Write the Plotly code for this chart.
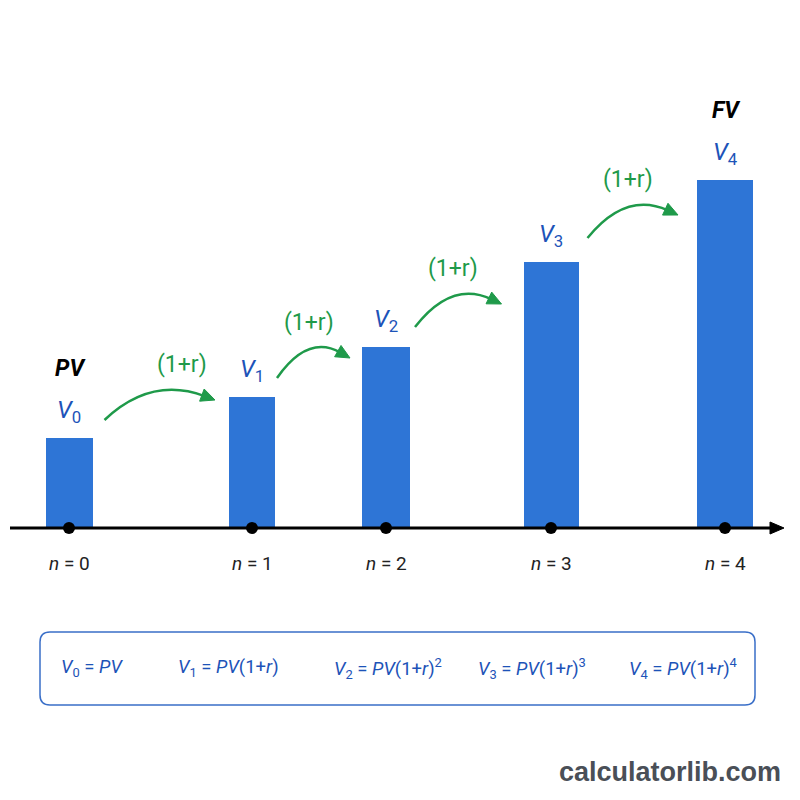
import math
import plotly.graph_objects as go

# ---------------- data ----------------
periods = [0, 1, 2, 3, 4]
values = [90, 131, 181, 266, 348]          # bar heights (arbitrary units)
bar_labels = ["<i>V</i><sub>0</sub>", "<i>V</i><sub>1</sub>", "<i>V</i><sub>2</sub>",
              "<i>V</i><sub>3</sub>", "<i>V</i><sub>4</sub>"]
top_labels = ["PV", "", "", "", "FV"]
growth_label = "(1+r)"
n_labels = [f"<i>n</i> = {p}" for p in periods]
formulas = [
    "<i>V</i><sub>0</sub> = <i>PV</i>",
    "<i>V</i><sub>1</sub> = <i>PV</i>(1+<i>r</i>)",
    "<i>V</i><sub>2</sub> = <i>PV</i>(1+<i>r</i>)<sup>2</sup>",
    "<i>V</i><sub>3</sub> = <i>PV</i>(1+<i>r</i>)<sup>3</sup>",
    "<i>V</i><sub>4</sub> = <i>PV</i>(1+<i>r</i>)<sup>4</sup>",
]
watermark = "calculatorlib.com"

# ---------------- layout / style ----------------
x_pos = [69, 252, 386, 551, 725]
bar_w = [47, 46, 48, 55, 56]
formula_x = [92, 228, 388, 532, 683]
# growth-arrow geometry offsets (pixels)
arr_start_dx = [12, 2, 5, 9]
arr_start_dy = [18, 19, 20, 24]
arr_end_dx = [-14, -12, -22, -19]
arr_rise = [20, 20, 23, 23]
arr_label_dx = [22, -5, -5, -5]

BASE = 528  # pixel row of the baseline
BAR_COLOR = "#2e75d6"
LABEL_BLUE = "#1d53b8"
GREEN = "#1f9a4a"
FONT = "Roboto, Arial, sans-serif"


def py(pix):
    """pixel row -> data y"""
    return BASE - pix


fig = go.Figure()

fig.add_trace(go.Bar(x=x_pos, y=values, width=bar_w, marker=dict(color=BAR_COLOR, line=dict(width=0)),
                     hoverinfo="skip"))

shapes = []
annotations = []

# baseline axis with arrow
shapes.append(dict(type="line", x0=10, x1=772, y0=0, y1=0, xref="x", yref="y",
                   line=dict(color="black", width=3), layer="above"))
shapes.append(dict(type="path", path="M 770,6 L 784,0 L 770,-6 Z", xref="x", yref="y",
                   fillcolor="black", line=dict(color="black", width=1), layer="above"))

# dots
fig.add_trace(go.Scatter(x=x_pos, y=[0] * len(x_pos), mode="markers",
                         marker=dict(color="black", size=12), hoverinfo="skip"))

# value labels
for i, v in enumerate(values):
    annotations.append(dict(x=x_pos[i], y=v + 27, text=bar_labels[i], showarrow=False,
                            font=dict(family=FONT, size=24, color=LABEL_BLUE), yanchor="middle"))
    if top_labels[i]:
        annotations.append(dict(x=x_pos[i] + 1, y=v + 27 + 43, text=f"<b><i>{top_labels[i]}</i></b>",
                                showarrow=False, font=dict(family=FONT, size=23, color="black"),
                                yanchor="middle"))
    annotations.append(dict(x=x_pos[i], y=py(563), text=n_labels[i], showarrow=False,
                            font=dict(family=FONT, size=19, color="#222222"), yanchor="middle"))

# growth arrows
for i in range(len(values) - 1):
    sx = x_pos[i] + bar_w[i] / 2 + arr_start_dx[i]
    sy = values[i] + arr_start_dy[i]
    ex = x_pos[i + 1] - bar_w[i + 1] / 2 + arr_end_dx[i]
    ey = sy + arr_rise[i]
    cx = sx + 0.42 * (ex - sx)
    cy = ey + 24
    # peak of quadratic bezier (relative)
    c_rel, e_rel = cy - sy, ey - sy
    peak = sy + c_rel ** 2 / (2 * c_rel - e_rel)
    dx, dy = ex - cx, ey - cy
    L = math.hypot(dx, dy)
    ux, uy = dx / L, dy / L
    px_, py_ = -uy, ux
    tipx, tipy = ex, ey
    bx, by = tipx - ux * 14, tipy - uy * 14
    shapes.append(dict(type="path", path=f"M {sx},{sy} Q {cx},{cy} {bx + ux*3},{by + uy*3}",
                       xref="x", yref="y", line=dict(color=GREEN, width=2.5)))
    shapes.append(dict(type="path",
                       path=f"M {tipx},{tipy} L {bx + px_*6.5},{by + py_*6.5} L {bx - px_*6.5},{by - py_*6.5} Z",
                       xref="x", yref="y", fillcolor=GREEN, line=dict(color=GREEN, width=1)))
    annotations.append(dict(x=(sx + ex) / 2 + arr_label_dx[i], y=peak + 27, text=growth_label,
                            showarrow=False, font=dict(family=FONT, size=23, color=GREEN),
                            yanchor="middle"))

# formula box (rounded)
x0, x1, y0, y1, r = 40, 755, py(705), py(632), 10
box = (f"M {x0 + r},{y1} L {x1 - r},{y1} Q {x1},{y1} {x1},{y1 - r} L {x1},{y0 + r} "
       f"Q {x1},{y0} {x1 - r},{y0} L {x0 + r},{y0} Q {x0},{y0} {x0},{y0 + r} L {x0},{y1 - r} "
       f"Q {x0},{y1} {x0 + r},{y1} Z")
shapes.append(dict(type="path", path=box, xref="x", yref="y",
                   line=dict(color="#3a6fc8", width=1.5), fillcolor="rgba(0,0,0,0)"))
for fx, ftxt in zip(formula_x, formulas):
    annotations.append(dict(x=fx, y=py(668), text=ftxt, showarrow=False,
                            font=dict(family=FONT, size=18.5, color=LABEL_BLUE), yanchor="middle"))

annotations.append(dict(x=670, y=py(772), text=f"<b>{watermark}</b>", showarrow=False,
                        font=dict(family="Liberation Sans, Arial, sans-serif", size=27, color="#4a4f57"),
                        yanchor="middle"))

fig.update_layout(
    width=800, height=800, margin=dict(l=0, r=0, t=0, b=0),
    paper_bgcolor="white", plot_bgcolor="white", showlegend=False,
    xaxis=dict(range=[0, 800], visible=False, fixedrange=True),
    yaxis=dict(range=[BASE - 800, BASE], visible=False, fixedrange=True),
    shapes=shapes, annotations=annotations, bargap=0,
)

fig.write_html("out.html")
